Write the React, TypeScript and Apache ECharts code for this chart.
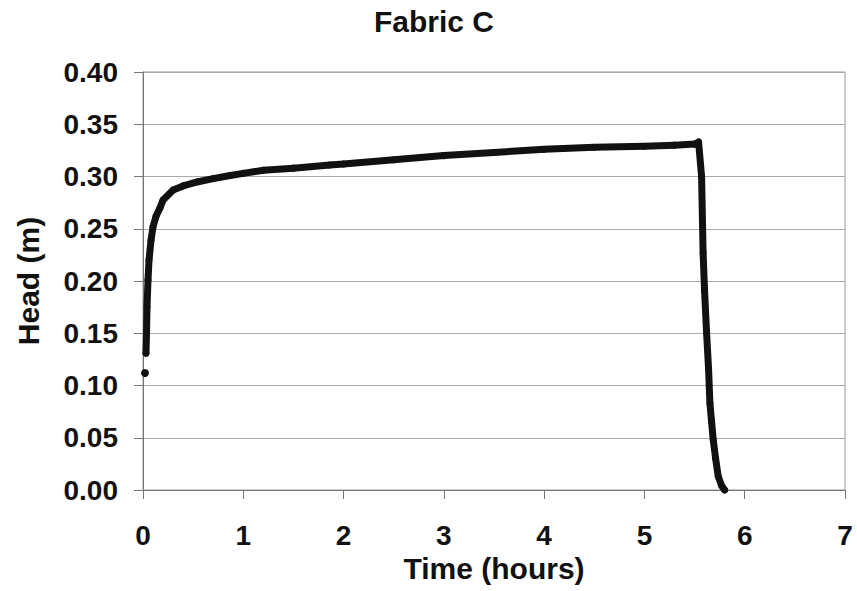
import React, { useEffect, useRef } from "react";
import * as echarts from "echarts";

const timeHours: number[] = [
  0.02, 0.03, 0.035, 0.04, 0.05, 0.06, 0.08, 0.1, 0.13, 0.17, 0.2, 0.3, 0.4, 0.55, 0.7, 0.87, 1.0, 1.2,
  1.5, 1.86, 2.0, 2.5, 3.0, 3.5, 4.0, 4.5, 5.0, 5.3, 5.5, 5.54, 5.57, 5.585, 5.6, 5.62, 5.64, 5.653,
  5.67, 5.686, 5.71, 5.736, 5.77, 5.8,
];
const headM: number[] = [
  0.112, 0.131, 0.15, 0.175, 0.201, 0.22, 0.239, 0.252, 0.262, 0.27, 0.2775, 0.287, 0.291, 0.295,
  0.298, 0.301, 0.303, 0.306, 0.308, 0.311, 0.312, 0.316, 0.32, 0.323, 0.326, 0.328, 0.329, 0.33,
  0.331, 0.333, 0.3, 0.227, 0.19, 0.15, 0.115, 0.083, 0.065, 0.048, 0.03, 0.013, 0.004, 0.0,
];

const FONT = "'Liberation Sans', Arial, sans-serif";

export default function App() {
  const ref = useRef<HTMLDivElement>(null);
  useEffect(() => {
    if (!ref.current) return;
    const chart = echarts.init(ref.current, null, { renderer: "svg" });
    const isolated = [[timeHours[0], headM[0]]];
    const curve = timeHours.slice(1).map((t, i) => [t, headM[i + 1]]);
    chart.setOption({
      animation: false,
      backgroundColor: "#fff",
      title: {
        text: "Fabric C",
        left: 374,
        top: 6,
        padding: 0,
        textStyle: { fontFamily: FONT, fontSize: 30, fontWeight: "bold", color: "#111" },
      },
      grid: {
        left: 143,
        right: 12,
        top: 72,
        bottom: 101,
        show: true,
        borderColor: "#999",
        borderWidth: 1,
        containLabel: false,
      },
      xAxis: {
        type: "value",
        min: 0,
        max: 7,
        interval: 1,
        name: "Time (hours)",
        nameLocation: "middle",
        nameGap: 63,
        nameTextStyle: { fontFamily: FONT, fontSize: 30, fontWeight: "bold", color: "#111" },
        axisLine: { show: true, lineStyle: { color: "#777", width: 1 } },
        axisTick: { show: true, inside: false, length: 9, lineStyle: { color: "#777" } },
        axisLabel: { fontFamily: FONT, fontSize: 28, fontWeight: "bold", color: "#111", margin: 31 },
        splitLine: { show: false },
      },
      yAxis: {
        type: "value",
        min: 0,
        max: 0.4,
        interval: 0.05,
        name: "Head (m)",
        nameLocation: "middle",
        nameRotate: 90,
        nameGap: 100,
        nameTextStyle: { fontFamily: FONT, fontSize: 30, fontWeight: "bold", color: "#111" },
        axisLine: { show: true, lineStyle: { color: "#777", width: 1 } },
        axisTick: { show: true, inside: false, length: 9, lineStyle: { color: "#777" } },
        axisLabel: {
          fontFamily: FONT,
          fontSize: 28,
          fontWeight: "bold",
          color: "#111",
          margin: 25,
          formatter: (v: number) => v.toFixed(2),
        },
        splitLine: { show: true, lineStyle: { color: "#aaa", width: 1 } },
      },
      series: [
        {
          type: "scatter",
          data: isolated,
          symbol: "circle",
          symbolSize: 8,
          itemStyle: { color: "#111", opacity: 1 },
        },
        {
          type: "line",
          data: curve,
          showSymbol: true,
          symbol: "circle",
          symbolSize: 7,
          itemStyle: { color: "#111" },
          lineStyle: { color: "#111", width: 7, cap: "round", join: "round" },
        },
      ],
    });
    return () => chart.dispose();
  }, []);
  return (
    <div
      ref={ref}
      style={{ position: "fixed", left: 0, top: 0, width: 857, height: 591 }}
    />
  );
}
